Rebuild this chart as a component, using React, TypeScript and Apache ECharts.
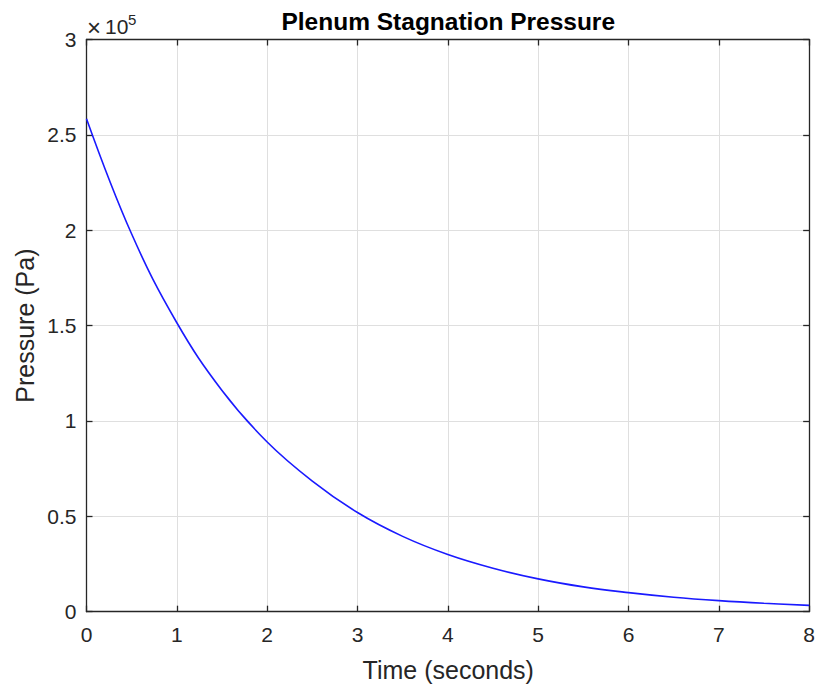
import React, { useEffect, useRef } from "react";
import * as echarts from "echarts";

// Time (seconds)
const times = [0, 0.5, 1, 1.5, 2, 2.5, 3, 3.5, 4, 4.5, 5, 5.5, 6, 6.5, 7, 7.5, 8];
// Plenum stagnation pressure (Pa)
const pressures = [
  258500, 198000, 151500, 116000, 89000, 68500, 52000, 39500, 30000,
  22800, 17200, 13000, 10000, 7600, 5800, 4400, 3300,
];
const xTicks = [0, 1, 2, 3, 4, 5, 6, 7, 8];
const yTickLabels = ["0", "0.5", "1", "1.5", "2", "2.5", "3"];

const titleText = "Plenum Stagnation Pressure";
const xLabel = "Time (seconds)";
const yLabel = "Pressure (Pa)";

const FONT = "'Liberation Sans', Arial, Helvetica, sans-serif";
const AX = "#262626";
const GRID = "#dfdfdf";

export default function App() {
  const ref = useRef<HTMLDivElement>(null);
  useEffect(() => {
    if (!ref.current) return;
    const chart = echarts.init(ref.current, null, { renderer: "svg" });
    const L = 86.5, R = 810, T = 39.5, B = 611.7;
    const commonX = {
      type: "value" as const,
      min: xTicks[0],
      max: xTicks[xTicks.length - 1],
      interval: 1,
    };
    const commonY = {
      type: "value" as const,
      min: 0,
      max: 300000,
      interval: 50000,
    };
    chart.setOption({
      animation: false,
      backgroundColor: "#ffffff",
      grid: { left: L, top: T, width: R - L, height: B - T, containLabel: false },
      xAxis: [
        {
          ...commonX,
          position: "bottom",
          axisLine: { show: true, onZero: false, lineStyle: { color: AX, width: 1.3 } },
          axisTick: { show: true, inside: true, length: 6, lineStyle: { color: AX, width: 1.3 } },
          axisLabel: { color: AX, fontSize: 21, fontFamily: FONT, margin: 12 },
          splitLine: { show: true, lineStyle: { color: GRID, width: 1 } },
        },
        {
          ...commonX,
          position: "top",
          axisLine: { show: true, onZero: false, lineStyle: { color: AX, width: 1.3 } },
          axisTick: { show: true, inside: true, length: 6, lineStyle: { color: AX, width: 1.3 } },
          axisLabel: { show: false },
          splitLine: { show: false },
        },
      ],
      yAxis: [
        {
          ...commonY,
          position: "left",
          axisLine: { show: true, onZero: false, lineStyle: { color: AX, width: 1.3 } },
          axisTick: { show: true, inside: true, length: 6, lineStyle: { color: AX, width: 1.3 } },
          axisLabel: {
            color: AX,
            fontSize: 21,
            fontFamily: FONT,
            margin: 10,
            padding: [6, 0, 0, 0],
            formatter: (v: number) => yTickLabels[Math.round(v / 50000)] ?? "",
          },
          splitLine: { show: true, lineStyle: { color: GRID, width: 1 } },
        },
        {
          ...commonY,
          position: "right",
          axisLine: { show: true, onZero: false, lineStyle: { color: AX, width: 1.3 } },
          axisTick: { show: true, inside: true, length: 6, lineStyle: { color: AX, width: 1.3 } },
          axisLabel: { show: false },
          splitLine: { show: false },
        },
      ],
      series: [
        {
          type: "line",
          xAxisIndex: 0,
          yAxisIndex: 0,
          data: times.map((t, i) => [t, pressures[i]]),
          smooth: 0.4,
          showSymbol: false,
          lineStyle: { color: "#1a1aff", width: 1.6 },
          z: 5,
        },
      ],
      graphic: [
        {
          type: "text",
          x: (L + R) / 2,
          y: 21,
          style: {
            text: titleText,
            font: `bold 24.5px ${FONT}`,
            fill: "#000000",
            textAlign: "center",
            textVerticalAlign: "middle",
          },
        },
        {
          type: "text",
          x: (L + R) / 2,
          y: 670,
          style: {
            text: xLabel,
            font: `25px ${FONT}`,
            fill: AX,
            textAlign: "center",
            textVerticalAlign: "middle",
          },
        },
        {
          type: "text",
          x: 24.5,
          y: (T + B) / 2,
          rotation: Math.PI / 2,
          style: {
            text: yLabel,
            font: `25px ${FONT}`,
            fill: AX,
            textAlign: "center",
            textVerticalAlign: "middle",
          },
        },
        {
          type: "text",
          x: 87,
          y: 27,
          style: {
            text: "×",
            font: `24px ${FONT}`,
            fill: AX,
            textAlign: "left",
            textVerticalAlign: "middle",
          },
        },
        {
          type: "text",
          x: 105,
          y: 26,
          style: {
            text: "10",
            font: `21px ${FONT}`,
            fill: AX,
            textAlign: "left",
            textVerticalAlign: "middle",
          },
        },
        {
          type: "text",
          x: 128,
          y: 19,
          style: {
            text: "5",
            font: `15px ${FONT}`,
            fill: AX,
            textAlign: "left",
            textVerticalAlign: "middle",
          },
        },
      ],
    });
    return () => chart.dispose();
  }, []);
  return (
    <div
      ref={ref}
      style={{ position: "fixed", left: 0, top: 0, width: 818, height: 687 }}
    />
  );
}
